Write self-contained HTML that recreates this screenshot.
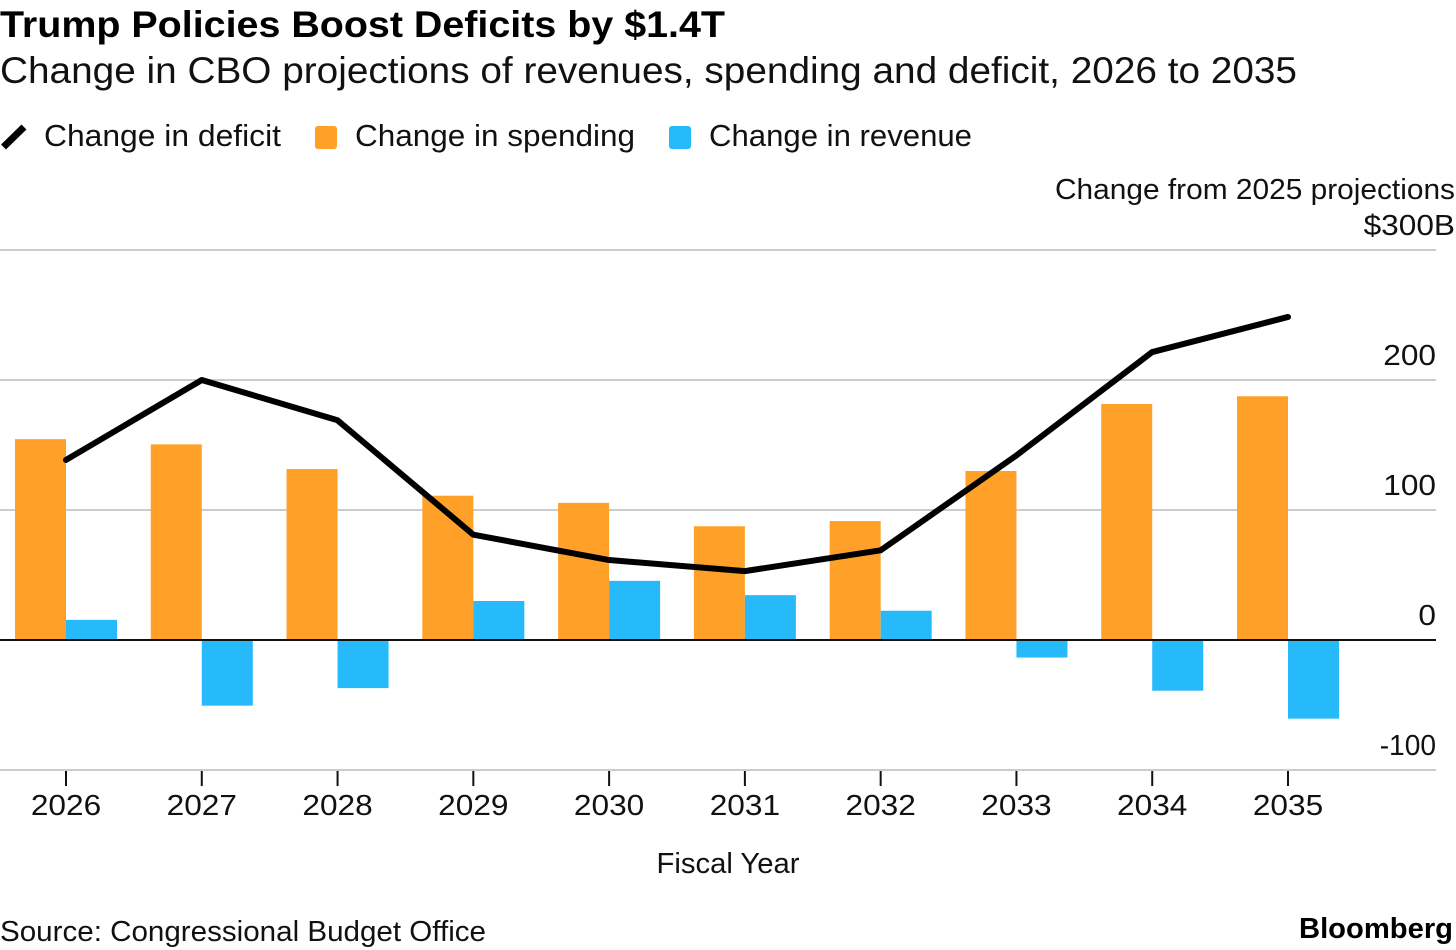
<!DOCTYPE html>
<html lang="en">
<head>
<meta charset="utf-8">
<title>Trump Policies Boost Deficits by $1.4T</title>
<style>
html,body{margin:0;padding:0;background:#fff;width:1456px;height:950px;overflow:hidden}
svg{display:block}
text{font-family:"Liberation Sans",sans-serif;fill:#111}
</style>
</head>
<body>
<svg id="chart" width="1456" height="950" viewBox="0 0 1456 950" xmlns="http://www.w3.org/2000/svg">
  <text x="0" y="37" font-size="37" font-weight="700" textLength="725" lengthAdjust="spacingAndGlyphs" style="fill:#000">Trump Policies Boost Deficits by $1.4T</text>
  <text x="0" y="83" font-size="37" textLength="1297" lengthAdjust="spacingAndGlyphs">Change in CBO projections of revenues, spending and deficit, 2026 to 2035</text>

  <g>
    <line x1="3.5" y1="147" x2="24" y2="127" stroke="#000" stroke-width="7"/>
    <text x="44" y="146" font-size="31" textLength="237" lengthAdjust="spacingAndGlyphs">Change in deficit</text>
    <rect x="315" y="126" width="22" height="23" rx="3" fill="#ffa028"/>
    <text x="355" y="146" font-size="31" textLength="280" lengthAdjust="spacingAndGlyphs">Change in spending</text>
    <rect x="669" y="126" width="22" height="23" rx="3" fill="#26bafa"/>
    <text x="709" y="146" font-size="31" textLength="263" lengthAdjust="spacingAndGlyphs">Change in revenue</text>
  </g>

  <text x="1455" y="199" font-size="28.5" text-anchor="end" textLength="400" lengthAdjust="spacingAndGlyphs">Change from 2025 projections</text>

  <g id="grid"></g>
  <g id="bars"></g>
  <line id="zero" x1="0" x2="1436" stroke="#111" stroke-width="2"/>
  <path id="deficit" fill="none" stroke="#000" stroke-width="6" stroke-linejoin="round" stroke-linecap="round"/>
  <g id="ylabels"></g>
  <g id="xaxis"></g>

  <text x="728" y="873" font-size="28.5" text-anchor="middle" textLength="143" lengthAdjust="spacingAndGlyphs">Fiscal Year</text>
  <text x="0" y="941" font-size="28.5" textLength="486" lengthAdjust="spacingAndGlyphs">Source: Congressional Budget Office</text>
  <text x="1453" y="938" font-size="29" font-weight="700" text-anchor="end" textLength="154" lengthAdjust="spacingAndGlyphs" style="fill:#000">Bloomberg</text>
</svg>
<script>
const years = [2026, 2027, 2028, 2029, 2030, 2031, 2032, 2033, 2034, 2035];
const spending = [154.5, 150.5, 131.5, 111, 105.5, 87.5, 91.5, 130, 181.5, 187.5];
const revenue = [15.5, -50.5, -37, 30, 45.5, 34.5, 22.5, -13.5, -39, -60.5];
const deficit = [138.5, 200, 169, 81, 61.5, 53, 69, 142, 221.5, 248.5];
const yTicks = [300, 200, 100, 0, -100];
const yTickLabels = ['$300B', '200', '100', '0', '-100'];

const NS = 'http://www.w3.org/2000/svg';
const BAR_W = 51;
function yScale(v) { return 640 - v * 1.3; }
function xScale(i) { return 66 + i * (1288 - 66) / 9; }
function make(tag, attrs, parent) {
  const el = document.createElementNS(NS, tag);
  for (const k in attrs) el.setAttribute(k, attrs[k]);
  parent.appendChild(el);
  return el;
}
function widen(el, factor) {
  el.setAttribute('lengthAdjust', 'spacingAndGlyphs');
  el.setAttribute('textLength', el.getComputedTextLength() * factor);
}

const grid = document.getElementById('grid');
const ylabels = document.getElementById('ylabels');
yTicks.forEach(function (t, i) {
  if (t !== 0) {
    const g = make('line', { x1: 0, x2: 1436, y1: yScale(t), y2: yScale(t), stroke: '#cccccc', 'stroke-width': 2 }, grid);
    
    
  }
  const lab = make('text', { x: t === 300 ? 1455 : 1436, y: yScale(t) - 15, 'font-size': 29, 'text-anchor': 'end' }, ylabels);
  
  
  lab.textContent = yTickLabels[i];
  widen(lab, t < 0 ? 0.97 : 1.09);
});

const zero = document.getElementById('zero');
zero.setAttribute('y1', yScale(0));
zero.setAttribute('y2', yScale(0));

const bars = document.getElementById('bars');
const xaxis = document.getElementById('xaxis');
years.forEach(function (yr, i) {
  const x = xScale(i);
  const s = make('rect', { x: x - BAR_W, y: Math.min(yScale(spending[i]), yScale(0)), width: BAR_W, height: Math.abs(yScale(spending[i]) - yScale(0)), fill: '#ffa028' }, bars);
  
  
  const r = make('rect', { x: x, y: Math.min(yScale(revenue[i]), yScale(0)), width: BAR_W, height: Math.abs(yScale(revenue[i]) - yScale(0)), fill: '#26bafa' }, bars);
  
  
  const tick = make('line', { x1: x, x2: x, y1: 771, y2: 786, stroke: '#111', 'stroke-width': 2 }, xaxis);
  
  
  const lab = make('text', { x: x, y: 815, 'font-size': 29, 'text-anchor': 'middle' }, xaxis);
  
  
  lab.textContent = yr;
  widen(lab, 1.09);
});

document.getElementById('deficit').setAttribute('d', deficit.map(function (v, i) {
  return (i ? 'L' : 'M') + xScale(i) + ' ' + yScale(v);
}).join(' '));
</script>
</body>
</html>
